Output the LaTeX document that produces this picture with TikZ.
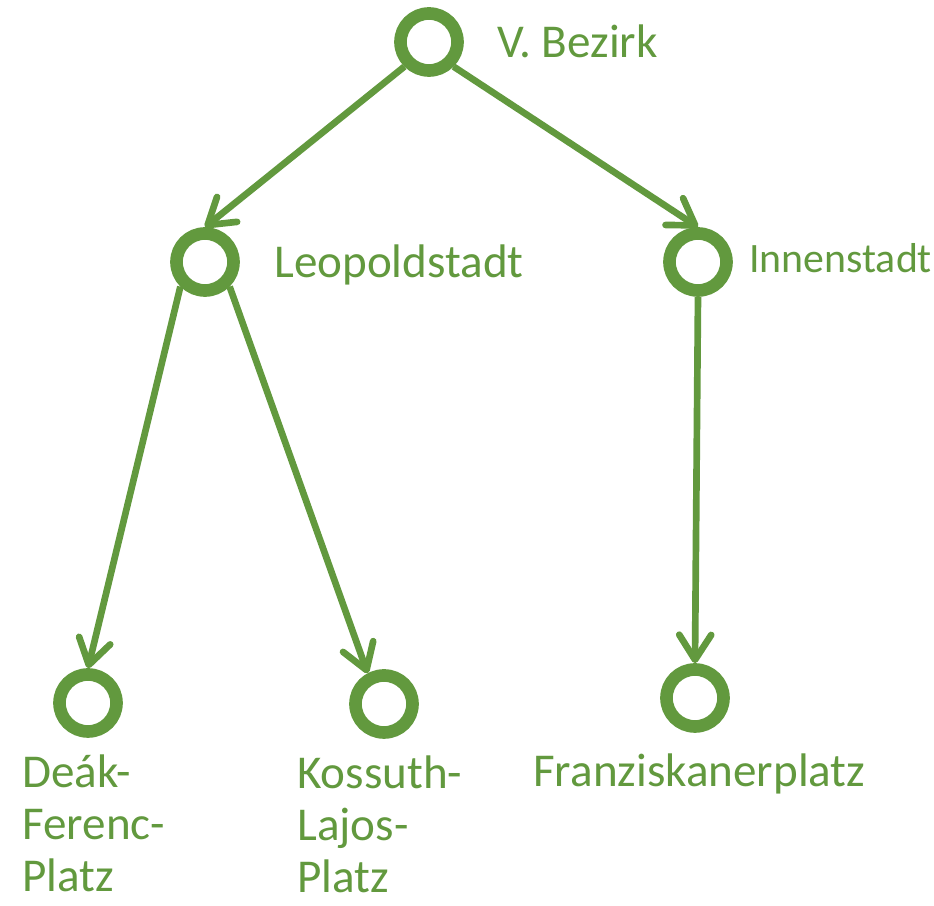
\documentclass[tikz,border=0pt]{standalone}
\usepackage{fontspec}
\setmainfont{Carlito}
\usetikzlibrary{arrows.meta}

\definecolor{treegreen}{RGB}{98,153,62}

\begin{document}
\begin{tikzpicture}[line width=1.9pt, treegreen,
  town/.style={circle, draw, line width=3.6pt, minimum size=0.57cm, inner sep=0pt},
  place/.style={anchor=base west, inner sep=0pt, font=\fontsize{13.4}{14.9}\selectfont, align=left},
  link/.style={-{Straight Barb[round, length=2.5mm, width=3.2mm]}}]

\useasboundingbox (0,0) rectangle (9.34,9.06);

% circles
\node [town] (bezirk) at (4.29,8.64) {};
\node [town] (leopold) at (2.05,6.44) {};
\node [town] (innen) at (6.98,6.44) {};
\node [town] (deak) at (0.88,2.03) {};
\node [town] (kossuth) at (3.84,2.02) {};
\node [town] (franz) at (6.95,2.08) {};

% names (base = last line of the block)
\node [place] (bezirktext) at (4.94,8.48) {V. Bezirk};
\node [place] (leopoldtext) at (2.71,6.28) {Leopoldstadt};
\node [place, font=\fontsize{11.9}{14}\selectfont] (innentext) at (7.46,6.33) {Innenstadt};
\node [place] (deaktext) at (0.19,0.14) {Deák-\\Ferenc-\\Platz};
\node [place] (kossuthtext) at (2.94,0.13) {Kossuth-\\Lajos-\\Platz};
\node [place] (franztext) at (5.30,1.19) {Franziskanerplatz};

\draw [link] (bezirk.south west) -- (leopold.north);
\draw [link] (bezirk.south east) -- (innen.north);
\draw [link] (leopold.south west) -- (deak.north);
\draw [link] (leopold.south east) -- (kossuth.118);
\draw [link] (innen.south) -- (franz.north);

\end{tikzpicture}
\end{document}
